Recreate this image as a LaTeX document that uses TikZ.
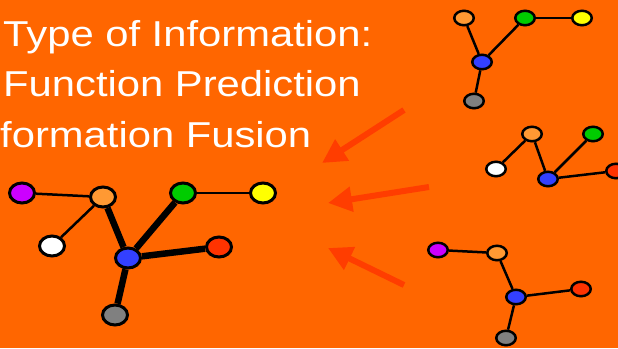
\documentclass[tikz,border=0pt]{standalone}
\usepackage{fontspec}
\setmainfont{Liberation Sans}[FakeStretch=1.16]
\usetikzlibrary{shapes.geometric,arrows.meta}

\definecolor{slidebg}{HTML}{FF6600}
\definecolor{pointer}{HTML}{FF3D00}
\definecolor{cpurple}{HTML}{CC00FF}
\definecolor{clight}{HTML}{FF9933}
\definecolor{cgreen}{HTML}{00CC00}
\definecolor{cyellow}{HTML}{FFFF00}
\definecolor{cblue}{HTML}{3340FF}
\definecolor{cred}{HTML}{FF3300}
\definecolor{cgray}{HTML}{808080}

\tikzset{
  bignode/.style={ellipse,draw=black,line width=3pt,minimum width=25pt,minimum height=20pt,inner sep=0pt},
  smallnode/.style={ellipse,draw=black,line width=2.5pt,minimum width=19.5pt,minimum height=14.5pt,inner sep=0pt},
  thinedge/.style={line width=2.5pt},
  thickedge/.style={line width=6.5pt},
  pointerarrow/.style={draw=pointer,line width=6pt,-{Triangle[length=24pt,width=24pt]}},
  slidetext/.style={text=white,anchor=base west,inner sep=0pt,font=\fontsize{36}{40}\selectfont}
}

\begin{document}
\begin{tikzpicture}[x=1pt,y=-1pt]
\useasboundingbox (0,0) rectangle (618,348);
\clip (0,0) rectangle (618,348);
\fill[slidebg] (0,0) rectangle (618,348);

% title lines
\node[slidetext] (line1) at (3,46) {Type of Information:};
\node[slidetext] (line2) at (3,96) {Function Prediction};
\node[slidetext] (line3) at (0,147) {formation Fusion};

% fused network
\node[bignode,fill=cpurple] (fpurple) at (22,193) {};
\node[bignode,fill=clight] (flight) at (103,197) {};
\node[bignode,fill=cgreen] (fgreen) at (183,193) {};
\node[bignode,fill=cyellow] (fyellow) at (263,193) {};
\node[bignode,fill=white] (fwhite) at (52,246) {};
\node[bignode,fill=cblue] (fblue) at (128,258) {};
\node[bignode,fill=cred] (fred) at (219,247) {};
\node[bignode,fill=cgray] (fgray) at (115,315) {};
\draw[thinedge] (fpurple) -- (flight);
\draw[thinedge] (flight) -- (fwhite);
\draw[thinedge] (fgreen) -- (fyellow);
\draw[thickedge] (flight) -- (fblue);
\draw[thickedge] (fblue) -- (fgreen);
\draw[thickedge] (fblue) -- (fred);
\draw[thickedge] (fblue) -- (fgray);

% source network 1
\node[smallnode,fill=clight] (alight) at (464,18) {};
\node[smallnode,fill=cgreen] (agreen) at (525,18) {};
\node[smallnode,fill=cyellow] (ayellow) at (582,18) {};
\node[smallnode,fill=cblue] (ablue) at (482,62) {};
\node[smallnode,fill=cgray] (agray) at (474,101) {};
\draw[thinedge] (alight) -- (ablue);
\draw[thinedge] (ablue) -- (agreen);
\draw[thinedge] (agreen) -- (ayellow);
\draw[thinedge] (ablue) -- (agray);

% source network 2
\node[smallnode,fill=clight] (blight) at (532,134) {};
\node[smallnode,fill=cgreen] (bgreen) at (593,134) {};
\node[smallnode,fill=white] (bwhite) at (496,169) {};
\node[smallnode,fill=cblue] (bblue) at (548,179) {};
\node[smallnode,fill=cred] (bred) at (616,171) {};
\draw[thinedge] (bwhite) -- (blight);
\draw[thinedge] (blight) -- (bblue);
\draw[thinedge] (bblue) -- (bgreen);
\draw[thinedge] (bblue) -- (bred);

% source network 3
\node[smallnode,fill=cpurple] (cpurple) at (438,250) {};
\node[smallnode,fill=clight] (clight) at (497,253) {};
\node[smallnode,fill=cblue] (cblue) at (516,297) {};
\node[smallnode,fill=cred] (cred) at (581,289) {};
\node[smallnode,fill=cgray] (cgray) at (506,338) {};
\draw[thinedge] (cpurple) -- (clight);
\draw[thinedge] (clight) -- (cblue);
\draw[thinedge] (cblue) -- (cred);
\draw[thinedge] (cblue) -- (cgray);

% arrows into the fused network
\coordinate (tail1) at (404,110);
\coordinate (head1) at (322,163);
\coordinate (tail2) at (429,187);
\coordinate (head2) at (328,203);
\coordinate (tail3) at (404,285);
\coordinate (head3) at (328,248);
\draw[pointerarrow] (tail1) -- (head1);
\draw[pointerarrow] (tail2) -- (head2);
\draw[pointerarrow] (tail3) -- (head3);
\end{tikzpicture}
\end{document}
